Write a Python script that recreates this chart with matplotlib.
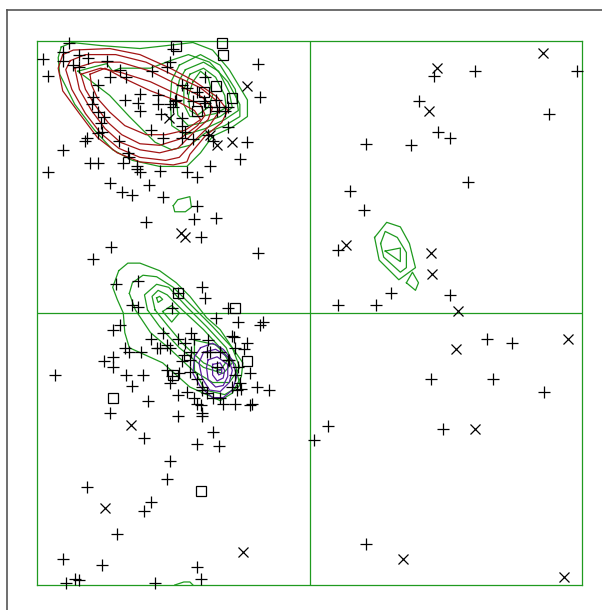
import matplotlib
matplotlib.use("Agg")
import matplotlib.pyplot as plt
from matplotlib.lines import Line2D

# phi/psi of residues, by marker type
plus_phi = [-159, -163, -152, -176, -163, -156, -146, -173, -134, -152, -132, -125, -121, -140,
            -122, -112, -113, -112, -104, -100, -100, -98, -94, -92, -90, -143, -144, -140, -136,
            -138, -137, -140, -147, -148, -126, -92, -88, -84, -81, -84, -84, -105, -97, -84, -82,
            -77, -120, -119, -123, -114, -114, -112, -99, -81, -74, -66, -46, -41, -163, -173,
            -145, -140, -132, -124, -117, -106, -97, -74, -76, -62, -108, -72, -131, -143, -34,
            -70, -77, -74, -66, -61, -54, -54, -33, -34, -69, -69, -62, -60, -56, -89, -90, -67,
            -64]
plus_psi = [179, 173, 171, 168, 167, 164, 169, 157, 167, 163, 156, 161, 156, 151,
            141, 145, 139, 134, 160, 144, 138, 132, 163, 166, 175, 143, 138, 133, 130,
            126, 120, 119, 116, 114, 114, 138, 141, 151, 149, 129, 124, 121, 116, 116, 120,
            115, 106, 103, 99, 97, 95, 93, 94, 93, 90, 97, 102, 113, 108, 93,
            99, 99, 86, 80, 78, 85, 77, 71, 62, 63, 60, 50, 44, 36, 40,
            140, 140, 146, 136, 134, 123, 136, 143, 165, 156, 139, 141, 136, 134, 140, 136, 118,
            114]

alpha_phi = [-113, -128, -117, -113, -71, -69, -87, -91, -54, -31, -33, -47, -62, -130, -125,
             -105, -99, -92, -87, -76, -67, -51, -49, -41, -43, -122, -119, -111, -136, -130,
             -130, -121, -110, -117, -107, -132, -87, -39, -35, -27, -38, -92, -87, -81, -76,
             -74, -71, -83, -79, -79, -74, -71, -68, -64, -59, -51, -48, -46, -47, -54, -59,
             -66, -94, -91, -86, -168, -64, -74, -60, -109, -71, -57, -49, -39, -92, -94, -147,
             -105, -109, -127, -163, -137, -74, -72, -102, -155, -152, -161, -78, -82, -84,
             -78, -68, -61, -53, -49, -45, -71, -72, -50, -97, -101, -94]
alpha_psi = [21, 19, 5, 4, 17, 10, 13, 3, 3, -6, -8, -6, -3, -11, -8,
             -17, -23, -23, -17, -17, -18, -15, -23, -20, -24, -23, -26, -26, -32, -29,
             -36, -41, -41, -48, -58, -66, -68, -40, -49, -51, -60, -46, -54, -52, -56,
             -60, -66, -28, -31, -39, -44, -49, -53, -56, -56, -49, -51, -46, -36, -31, -26,
             -26, -38, -42, -40, -41, -79, -87, -88, -83, -68, -60, -60, -61, -98, -110, -115,
             -125, -131, -146, -163, -167, -168, -176, -179, -176, -177, -179, -13, -20, -32,
             -26, -26, -36, -31, -41, -50, -51, -61, -16, -13, -23, -21]

right_phi = [82, 109, 177, 158, 72, 85, 93, 37, 67, 105, 27, 36, 19, 54, 44, 19, 93,
             117, 134, 80, 121, 155, 12, 3, 88, 37]
right_psi = [157, 160, 160, 132, 140, 120, 116, 112, 111, 87, 81, 68, 42, 13, 5, 5, 12,
             -17, -20, -44, -44, -52, -75, -84, -77, -153]

cross_phi = [-41, -51, -61, -66, -93, -85, -82, -118, -135, -44,
             154, 84, 79, 24, 80, 81, 98, 97, 171, 109, 62, 168]
cross_psi = [150, 113, 111, 118, 129, 53, 50, -74, -129, -158,
             172, 162, 134, 45, 40, 26, 1, -24, -17, -77, -163, -175]

square_phi = [-88, -58, -57, -70, -74, -62, -51, -87, -49, -41, -90, -130, -72]
square_psi = [177, 179, 171, 146, 134, 150, 142, 13, 3, -32, -41, -56, -118]

# density contour rings (phi, psi)
red_rings = [
    [(-163, 171), (-156, 174), (-132, 175), (-112, 171), (-92, 162), (-77, 154), (-61, 143),
     (-54, 134), (-58, 126), (-69, 117), (-79, 105), (-81, 100), (-90, 98), (-112, 100),
     (-127, 106), (-140, 116), (-152, 132), (-163, 147), (-166, 162)],
    [(-158, 167), (-148, 171), (-128, 171), (-108, 166), (-89, 157), (-72, 149), (-62, 141),
     (-60, 133), (-66, 124), (-76, 114), (-86, 103), (-95, 101), (-112, 103), (-126, 109),
     (-138, 119), (-148, 132), (-157, 148), (-161, 161)],
    [(-155, 162), (-142, 166), (-125, 166), (-105, 160), (-87, 151), (-71, 143), (-64, 136),
     (-67, 128), (-76, 120), (-87, 109), (-99, 106), (-112, 108), (-125, 113), (-135, 122),
     (-144, 134), (-152, 148)],
    [(-151, 158), (-138, 162), (-124, 159), (-105, 153), (-86, 144), (-72, 138), (-69, 131),
     (-74, 124), (-86, 115), (-99, 111), (-112, 112), (-124, 118), (-133, 126), (-142, 138),
     (-148, 148)],
    [(-145, 158), (-135, 162), (-122, 155), (-105, 147), (-89, 141), (-76, 134), (-72, 128),
     (-82, 121), (-95, 118), (-108, 118), (-122, 124), (-132, 133), (-140, 142), (-144, 151)],
]

green_rings = [
    [(-164, 176), (-157, 179), (-138, 177), (-112, 175), (-94, 177), (-77, 179), (-64, 174),
     (-53, 161), (-41, 141), (-41, 130), (-51, 123), (-64, 117), (-72, 106), (-81, 97),
     (-99, 97), (-117, 101), (-130, 108), (-142, 121), (-155, 138), (-165, 158), (-166, 169)],
    [(-153, 160), (-142, 163), (-134, 165), (-130, 160), (-125, 162), (-105, 162), (-92, 167),
     (-80, 171), (-66, 166), (-54, 153), (-46, 138), (-46, 130), (-56, 124), (-69, 119),
     (-79, 111), (-91, 108), (-102, 113), (-119, 130), (-132, 144), (-145, 154)],
    [(-86, 164), (-72, 171), (-59, 164), (-49, 148), (-47, 134), (-56, 128), (-69, 122),
     (-82, 118), (-91, 124), (-92, 141), (-91, 154)],
    [(-82, 161), (-70, 166), (-60, 160), (-53, 146), (-51, 136), (-59, 130), (-70, 126),
     (-80, 124), (-87, 131), (-88, 144), (-86, 154)],
    [(-79, 158), (-70, 162), (-62, 156), (-56, 144), (-55, 136), (-62, 132), (-72, 130),
     (-79, 130), (-83, 138), (-83, 148)],
    [(-77, 153), (-72, 160), (-67, 156), (-64, 144), (-67, 136), (-74, 131), (-79, 134),
     (-80, 144)],
    [(-90, 71), (-87, 75), (-79, 77), (-78, 70), (-82, 67), (-89, 67)],
    [(43, 50), (51, 60), (60, 57), (66, 46), (70, 30), (59, 22), (46, 35)],
    [(47, 46), (50, 54), (58, 50), (64, 40), (64, 30), (60, 27), (49, 37)],
    [(50, 41), (60, 43), (60, 34)],
    [(64, 20), (68, 27), (72, 20), (70, 15)],
    [(-126, 28), (-120, 33), (-112, 33), (-99, 28), (-88, 20), (-79, 11), (-68, -3), (-59, -11),
     (-51, -23), (-44, -33), (-45, -42), (-51, -53), (-59, -58), (-79, -49), (-97, -33),
     (-119, -23), (-122, -13), (-123, 0), (-127, 9), (-130, 17)],
    [(-119, 13), (-117, 20), (-110, 25), (-101, 24), (-90, 17), (-77, 4), (-64, -9), (-51, -23),
     (-46, -36), (-53, -46), (-64, -46), (-77, -38), (-92, -24), (-105, -13), (-115, 2)],
    [(-107, 2), (-109, 12), (-101, 19), (-93, 17), (-81, 4), (-68, -9), (-55, -23), (-51, -33),
     (-57, -40), (-70, -36), (-86, -23), (-99, -9)],
    [(-102, 2), (-104, 11), (-100, 15), (-94, 12), (-84, 2), (-70, -11), (-59, -23), (-54, -31),
     (-59, -38), (-70, -33), (-84, -20), (-94, -8)],
    [(-101, 10), (-99, 11), (-97, 9), (-100, 7)],
    [(-97, 1), (-91, 5), (-86, 0), (-91, -6)],
    [(-76, -18), (-62, -21), (-49, -34), (-46, -48), (-56, -54), (-69, -51), (-76, -38)],
]
# open piece of the top ring that wraps round to psi = -180
green_wrap = [(-89, -180), (-83, -178), (-79, -178), (-77, -180)]

purple_rings = [
    [(-72, -23), (-64, -20), (-57, -24), (-51, -31), (-48, -42), (-51, -51), (-57, -56),
     (-64, -56), (-72, -49), (-77, -40), (-76, -29)],
    [(-70, -26), (-62, -24), (-54, -29), (-51, -38), (-53, -46), (-59, -52), (-66, -51),
     (-71, -43), (-73, -33)],
    [(-67, -31), (-61, -29), (-54, -34), (-54, -42), (-57, -48), (-62, -49), (-67, -44),
     (-68, -36)],
    [(-64, -34), (-59, -33), (-56, -38), (-57, -43), (-61, -45), (-64, -41)],
    [(-61, -38), (-58, -37), (-58, -40), (-60, -41)],
]

GREEN = "#1f9a1f"
RED = "#a31515"
PURPLE = "#5a1f9e"

fig = plt.figure(figsize=(6.02, 6.10), dpi=100)
ax = fig.add_axes([37 / 602, 1 - 585 / 610, 545 / 602, 544 / 610])

def draw_ring(ring, color, closed=True):
    xs = [p[0] for p in ring]
    ys = [p[1] for p in ring]
    if closed:
        xs.append(xs[0])
        ys.append(ys[0])
    ax.plot(xs, ys, color=color, lw=0.9, zorder=2)

for r in green_rings:
    draw_ring(r, GREEN)
draw_ring(green_wrap, GREEN, closed=False)
for r in red_rings:
    draw_ring(r, RED)
for r in purple_rings:
    draw_ring(r, PURPLE)

ax.axhline(0, color=GREEN, lw=0.9, zorder=1)
ax.axvline(0, color=GREEN, lw=0.9, zorder=1)

mk = dict(color="black", linestyle="none", clip_on=False, zorder=3)
ax.plot(plus_phi + alpha_phi + right_phi, plus_psi + alpha_psi + right_psi,
        marker="+", markersize=9, mew=0.9, **mk)
ax.plot(cross_phi, cross_psi, marker="x", markersize=7, mew=0.9, **mk)
ax.plot(square_phi, square_psi, marker="s", markersize=6.5, mew=0.9,
        markerfacecolor="none", **mk)

ax.set_xlim(-180, 180)
ax.set_ylim(-180, 180)
ax.set_xticks([])
ax.set_yticks([])
for s in ax.spines.values():
    s.set_color(GREEN)
    s.set_linewidth(0.9)

# outer frame (top and left edges)
top = 1 - 10 / 610
left = 7 / 602
fig.add_artist(Line2D([left, 1], [top, top], color="#555555", lw=1.2))
fig.add_artist(Line2D([left, left], [0, top], color="#555555", lw=1.2))

fig.savefig("out.png", dpi=100)
